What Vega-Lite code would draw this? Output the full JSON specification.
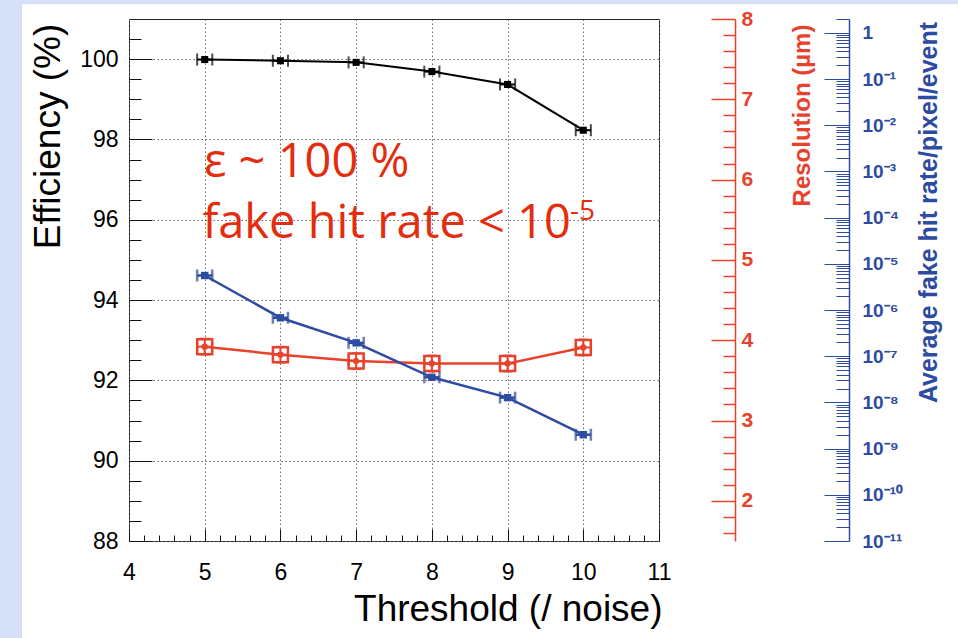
{
  "$schema": "https://vega.github.io/schema/vega-lite/v6.json",
  "width": 530,
  "height": 522,
  "autosize": {"type": "none"},
  "padding": {"left": 129, "top": 19, "right": 299, "bottom": 97},
  "background": "white",
  "config": {"view": {"stroke": "#222", "strokeWidth": 1}, "font": "Liberation Sans"},
  "data": {
    "values": [
      {"thr": 5, "eff": 99.99, "res": 3.92, "rate": 5.6e-6, "xerr": 0.1, "reserr": 0.1},
      {"thr": 6, "eff": 99.96, "res": 3.82, "rate": 6.8e-7, "xerr": 0.1, "reserr": 0.1},
      {"thr": 7, "eff": 99.92, "res": 3.74, "rate": 1.95e-7, "xerr": 0.1, "reserr": 0.1},
      {"thr": 8, "eff": 99.69, "res": 3.71, "rate": 3.5e-8, "xerr": 0.1, "reserr": 0.1},
      {"thr": 9, "eff": 99.37, "res": 3.71, "rate": 1.27e-8, "xerr": 0.1, "reserr": 0.1},
      {"thr": 10, "eff": 98.23, "res": 3.91, "rate": 2.0e-9, "xerr": 0.1, "reserr": 0.1}
    ]
  },
  "resolve": {"scale": {"x": "independent", "y": "independent"}},
  "layer": [
    {
      "encoding": {
        "x": {
          "field": "thr", "type": "quantitative",
          "scale": {"domain": [4, 11], "nice": false, "zero": false},
          "axis": {
            "orient": "bottom",
            "values": [4, 4.2, 4.4, 4.6, 4.8, 5, 5.2, 5.4, 5.6, 5.8, 6, 6.2, 6.4, 6.6, 6.8, 7, 7.2, 7.4, 7.6, 7.8, 8, 8.2, 8.4, 8.6, 8.8, 9, 9.2, 9.4, 9.6, 9.8, 10, 10.2, 10.4, 10.6, 10.8, 11],
            "domain": false,
            "tickColor": "#111",
            "tickWidth": 1,
            "tickSize": {"condition": {"test": "abs(datum.value - round(datum.value)) < 0.001", "value": -12}, "value": -6},
            "labelExpr": "abs(datum.value - round(datum.value)) < 0.001 ? format(datum.value, 'd') : ''",
            "labelFontSize": 23,
            "labelColor": "#000",
            "labelPadding": 32,
            "labelOverlap": false,
            "labelFlush": false,
            "grid": true,
            "gridColor": "#666",
            "gridDash": [1.5, 2.5],
            "gridOpacity": {"condition": {"test": "abs(datum.value - round(datum.value)) < 0.001", "value": 1}, "value": 0},
            "title": "Threshold (/ noise)",
            "titleFontSize": 37,
            "titleFontWeight": "normal",
            "titleColor": "#000",
            "titleAlign": "right",
            "titleBaseline": "alphabetic",
            "titleX": 533,
            "titleY": 79
          }
        },
        "y": {
          "field": "eff", "type": "quantitative",
          "scale": {"domain": [88, 101], "nice": false, "zero": false},
          "axis": {
            "orient": "left",
            "values": [88, 88.5, 89, 89.5, 90, 90.5, 91, 91.5, 92, 92.5, 93, 93.5, 94, 94.5, 95, 95.5, 96, 96.5, 97, 97.5, 98, 98.5, 99, 99.5, 100, 100.5],
            "domain": false,
            "tickColor": "#111",
            "tickWidth": 1,
            "tickSize": {"condition": {"test": "datum.value % 2 === 0", "value": -23}, "value": -12},
            "labelExpr": "datum.value % 2 === 0 ? format(datum.value, 'd') : ''",
            "labelFontSize": 23,
            "labelColor": "#000",
            "labelPadding": 34,
            "labelOverlap": false,
            "labelFlush": false,
            "grid": true,
            "gridColor": "#666",
            "gridDash": [1.5, 2.5],
            "gridOpacity": {"condition": {"test": "datum.value % 2 === 0", "value": 1}, "value": 0},
            "title": "Efficiency (%)",
            "titleFontSize": 37,
            "titleFontWeight": "normal",
            "titleColor": "#000",
            "titleAngle": 270,
            "titleAlign": "center",
            "titleBaseline": "middle",
            "titleX": -81,
            "titleY": 117
          }
        }
      },
      "layer": [
        {"mark": {"type": "line", "color": "#000", "strokeWidth": 2}},
        {"mark": {"type": "errorbar", "ticks": true, "size": 12, "thickness": 2, "color": "#000"}, "encoding": {"xError": {"field": "xerr"}}},
        {"mark": {"type": "point", "shape": "square", "filled": true, "size": 50, "color": "#000", "opacity": 1}}
      ]
    },
    {
      "encoding": {
        "x": {"field": "thr", "type": "quantitative", "scale": {"domain": [4, 11], "nice": false, "zero": false}, "axis": null},
        "y": {
          "field": "res", "type": "quantitative",
          "scale": {"domain": [1.5, 8], "nice": false, "zero": false},
          "axis": {
            "orient": "right",
            "offset": 76,
            "values": [1.6, 1.8, 2, 2.2, 2.4, 2.6, 2.8, 3, 3.2, 3.4, 3.6, 3.8, 4, 4.2, 4.4, 4.6, 4.8, 5, 5.2, 5.4, 5.6, 5.8, 6, 6.2, 6.4, 6.6, 6.8, 7, 7.2, 7.4, 7.6, 7.8, 8],
            "domain": true,
            "domainColor": "#e8412c",
            "domainWidth": 1.5,
            "tickColor": "#e8412c",
            "tickWidth": 1.5,
            "tickSize": {"condition": {"test": "abs(datum.value - round(datum.value)) < 0.001", "value": -24}, "value": -12},
            "labelExpr": "abs(datum.value - round(datum.value)) < 0.001 ? format(datum.value, 'd') : ''",
            "labelFontSize": 21,
            "labelFontWeight": "bold",
            "labelColor": "#e8412c",
            "labelPadding": 30,
            "labelOverlap": false,
            "labelFlush": false,
            "grid": false,
            "title": "Resolution (µm)",
            "titleFontSize": 24,
            "titleFontWeight": "bold",
            "titleColor": "#e8412c",
            "titleAngle": 270,
            "titleAlign": "center",
            "titleBaseline": "middle",
            "titleX": 67,
            "titleY": 96
          }
        }
      },
      "layer": [
        {"mark": {"type": "line", "color": "#e8412c", "strokeWidth": 2.5}},
        {"mark": {"type": "errorbar", "ticks": true, "size": 9, "thickness": 2, "color": "#e8412c"}, "encoding": {"xError": {"field": "xerr"}}},
        {"mark": {"type": "errorbar", "ticks": true, "size": 9, "thickness": 2, "color": "#e8412c"}, "encoding": {"yError": {"field": "reserr"}}},
        {"mark": {"type": "point", "shape": "square", "filled": false, "size": 225, "strokeWidth": 2.5, "color": "#e8412c", "opacity": 1}},
        {"mark": {"type": "point", "shape": "circle", "filled": true, "size": 40, "color": "#e8412c", "opacity": 1}}
      ]
    },
    {
      "encoding": {
        "x": {"field": "thr", "type": "quantitative", "scale": {"domain": [4, 11], "nice": false, "zero": false}, "axis": null},
        "y": {
          "field": "rate", "type": "quantitative",
          "scale": {"type": "log", "domain": [1e-11, 2], "nice": false},
          "axis": {
            "orient": "right",
            "offset": 190,
            "values": [1e-11, 2e-11, 3e-11, 4e-11, 5e-11, 6e-11, 7e-11, 8e-11, 9e-11,
                       1e-10, 2e-10, 3e-10, 4e-10, 5e-10, 6e-10, 7e-10, 8e-10, 9e-10,
                       1e-9, 2e-9, 3e-9, 4e-9, 5e-9, 6e-9, 7e-9, 8e-9, 9e-9,
                       1e-8, 2e-8, 3e-8, 4e-8, 5e-8, 6e-8, 7e-8, 8e-8, 9e-8,
                       1e-7, 2e-7, 3e-7, 4e-7, 5e-7, 6e-7, 7e-7, 8e-7, 9e-7,
                       1e-6, 2e-6, 3e-6, 4e-6, 5e-6, 6e-6, 7e-6, 8e-6, 9e-6,
                       1e-5, 2e-5, 3e-5, 4e-5, 5e-5, 6e-5, 7e-5, 8e-5, 9e-5,
                       1e-4, 2e-4, 3e-4, 4e-4, 5e-4, 6e-4, 7e-4, 8e-4, 9e-4,
                       0.001, 0.002, 0.003, 0.004, 0.005, 0.006, 0.007, 0.008, 0.009,
                       0.01, 0.02, 0.03, 0.04, 0.05, 0.06, 0.07, 0.08, 0.09,
                       0.1, 0.2, 0.3, 0.4, 0.5, 0.6, 0.7, 0.8, 0.9, 1, 2],
            "domain": true,
            "domainColor": "#2d4ba0",
            "domainWidth": 1.5,
            "tickColor": "#2d4ba0",
            "tickWidth": 1,
            "tickSize": {"condition": {"test": "abs(log(datum.value)/LN10 - round(log(datum.value)/LN10)) < 0.01", "value": -25}, "value": -13},
            "labelExpr": "abs(log(datum.value)/LN10 - round(log(datum.value)/LN10)) < 0.01 ? ['1','10⁻¹','10⁻²','10⁻³','10⁻⁴','10⁻⁵','10⁻⁶','10⁻⁷','10⁻⁸','10⁻⁹','10⁻¹⁰','10⁻¹¹'][-round(log(datum.value)/LN10)] : ''",
            "labelFontSize": 19,
            "labelFontWeight": "bold",
            "labelColor": "#2d4ba0",
            "labelPadding": 38,
            "labelOverlap": false,
            "labelFlush": false,
            "grid": false,
            "title": "Average fake hit rate/pixel/event",
            "titleFontSize": 25,
            "titleFontWeight": "bold",
            "titleColor": "#2d4ba0",
            "titleAngle": 270,
            "titleAlign": "center",
            "titleBaseline": "middle",
            "titleX": 79,
            "titleY": 193
          }
        }
      },
      "layer": [
        {"mark": {"type": "line", "color": "#2d4ba0", "strokeWidth": 2.5}},
        {"mark": {"type": "errorbar", "ticks": true, "size": 12, "thickness": 2.5, "color": "#2d4ba0"}, "encoding": {"xError": {"field": "xerr"}}},
        {"mark": {"type": "point", "shape": "square", "filled": true, "size": 55, "color": "#2d4ba0", "opacity": 1}}
      ]
    },
    {
      "data": {"values": [{"note": "ε ~ 100 %"}]},
      "mark": {"type": "text", "align": "left", "baseline": "alphabetic", "font": "Open Sans", "fontSize": 47, "color": "#e32d0e"},
      "encoding": {
        "x": {"datum": 4.99, "type": "quantitative", "scale": {"domain": [4, 11], "nice": false, "zero": false}, "axis": null},
        "y": {"datum": 97.07, "type": "quantitative", "scale": {"domain": [88, 101], "nice": false, "zero": false}, "axis": null},
        "text": {"field": "note"}
      }
    },
    {
      "data": {"values": [{"note": "fake hit rate < 10"}]},
      "mark": {"type": "text", "align": "left", "baseline": "alphabetic", "font": "Open Sans", "fontSize": 47, "color": "#e32d0e"},
      "encoding": {
        "x": {"datum": 4.97, "type": "quantitative", "scale": {"domain": [4, 11], "nice": false, "zero": false}, "axis": null},
        "y": {"datum": 95.55, "type": "quantitative", "scale": {"domain": [88, 101], "nice": false, "zero": false}, "axis": null},
        "text": {"field": "note"}
      }
    },
    {
      "data": {"values": [{"note": "-5"}]},
      "mark": {"type": "text", "align": "left", "baseline": "alphabetic", "font": "Open Sans", "fontSize": 28, "color": "#e32d0e"},
      "encoding": {
        "x": {"datum": 9.825, "type": "quantitative", "scale": {"domain": [4, 11], "nice": false, "zero": false}, "axis": null},
        "y": {"datum": 95.99, "type": "quantitative", "scale": {"domain": [88, 101], "nice": false, "zero": false}, "axis": null},
        "text": {"field": "note"}
      }
    },
    {
      "data": {"values": [{}]},
      "mark": {"type": "rect", "color": "#d5e0f7"},
      "encoding": {
        "x": {"datum": 2.29, "type": "quantitative", "scale": {"domain": [4, 11], "nice": false, "zero": false}, "axis": null},
        "x2": {"datum": 2.587},
        "y": {"datum": 80, "type": "quantitative", "scale": {"domain": [88, 101], "nice": false, "zero": false}, "axis": null},
        "y2": {"datum": 110}
      }
    },
    {
      "data": {"values": [{}]},
      "mark": {"type": "rect", "color": "#d5e0f7"},
      "encoding": {
        "x": {"datum": 2.29, "type": "quantitative", "scale": {"domain": [4, 11], "nice": false, "zero": false}, "axis": null},
        "x2": {"datum": 16},
        "y": {"datum": 101.37, "type": "quantitative", "scale": {"domain": [88, 101], "nice": false, "zero": false}, "axis": null},
        "y2": {"datum": 110}
      }
    }
  ]
}
